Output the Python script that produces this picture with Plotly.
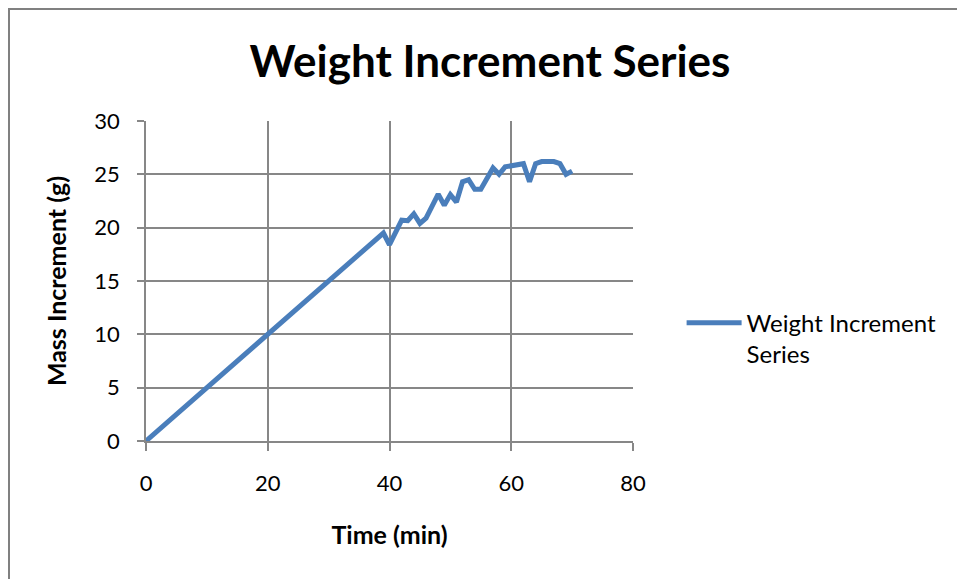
import plotly.graph_objects as go

# Time (min) and mass increment (g) readings
time_min = [0, 20, 39, 40, 42, 43, 44, 45, 46, 48, 49, 50, 51, 52, 53, 54, 55,
            57, 58, 59, 61, 62, 63, 64, 65, 67, 68, 69, 70]
mass_g = [0, 10, 19.5, 18.4, 20.7, 20.65, 21.3, 20.4, 20.9, 23.15, 22.1, 23.1,
          22.4, 24.3, 24.5, 23.6, 23.6, 25.6, 25.0, 25.7, 25.9, 26.0, 24.3, 26.0,
          26.2, 26.2, 26.0, 25.0, 25.3]

x_ticks = [0, 20, 40, 60, 80]
y_ticks = [0, 5, 10, 15, 20, 25, 30]

FONT = "Lato, 'Open Sans', sans-serif"
GRID = "#878787"

fig = go.Figure()
fig.add_trace(go.Scatter(
    x=time_min, y=mass_g, mode="lines",
    name="Weight Increment<br>Series",
    line=dict(color="#4a7ebb", width=5),
))

fig.update_layout(
    width=957, height=579,
    margin=dict(l=146, r=324, t=121, b=138),
    paper_bgcolor="white", plot_bgcolor="white",
    font=dict(family=FONT, color="black"),
    title=dict(text="<b>Weight Increment Series</b>", x=0.512, xanchor="center",
               y=0.893, yanchor="middle", font=dict(size=44, family=FONT)),
    showlegend=True,
    legend=dict(x=1.0998, y=0.32, xanchor="left", yanchor="middle",
                valign="top", font=dict(size=24, family=FONT),
                bgcolor="rgba(0,0,0,0)", itemwidth=55, borderwidth=0),
    xaxis=dict(range=[0, 80], tickvals=x_ticks, showgrid=True, gridcolor=GRID,
               gridwidth=1.5, showline=True, linecolor=GRID, linewidth=1.5,
               mirror=False, ticks="outside", ticklen=8, tickcolor=GRID,
               tickwidth=1.5, tickfont=dict(size=22), ticklabelstandoff=14,
               zeroline=False,
               title=dict(text="<b>Time (min)</b>", font=dict(size=25),
                          standoff=31)),
    yaxis=dict(range=[0, 30], tickvals=y_ticks, showgrid=True, gridcolor=GRID,
               gridwidth=1.5, showline=True, linecolor=GRID, linewidth=1.5,
               ticks="outside", ticklen=7, tickcolor=GRID, tickwidth=1.5,
               tickfont=dict(size=22), ticklabelstandoff=13, zeroline=False,
               title=dict(text="<b>Mass Increment (g)</b>", font=dict(size=25),
                          standoff=21)),
    shapes=[dict(type="rect", xref="paper", yref="paper",
                 x0=(9 - 146) / 487, x1=1.8, y0=-1, y1=(441 - 9) / 320,
                 line=dict(color="#808080", width=2), fillcolor="rgba(0,0,0,0)",
                 layer="below")],
)

fig.write_html("out.html")
